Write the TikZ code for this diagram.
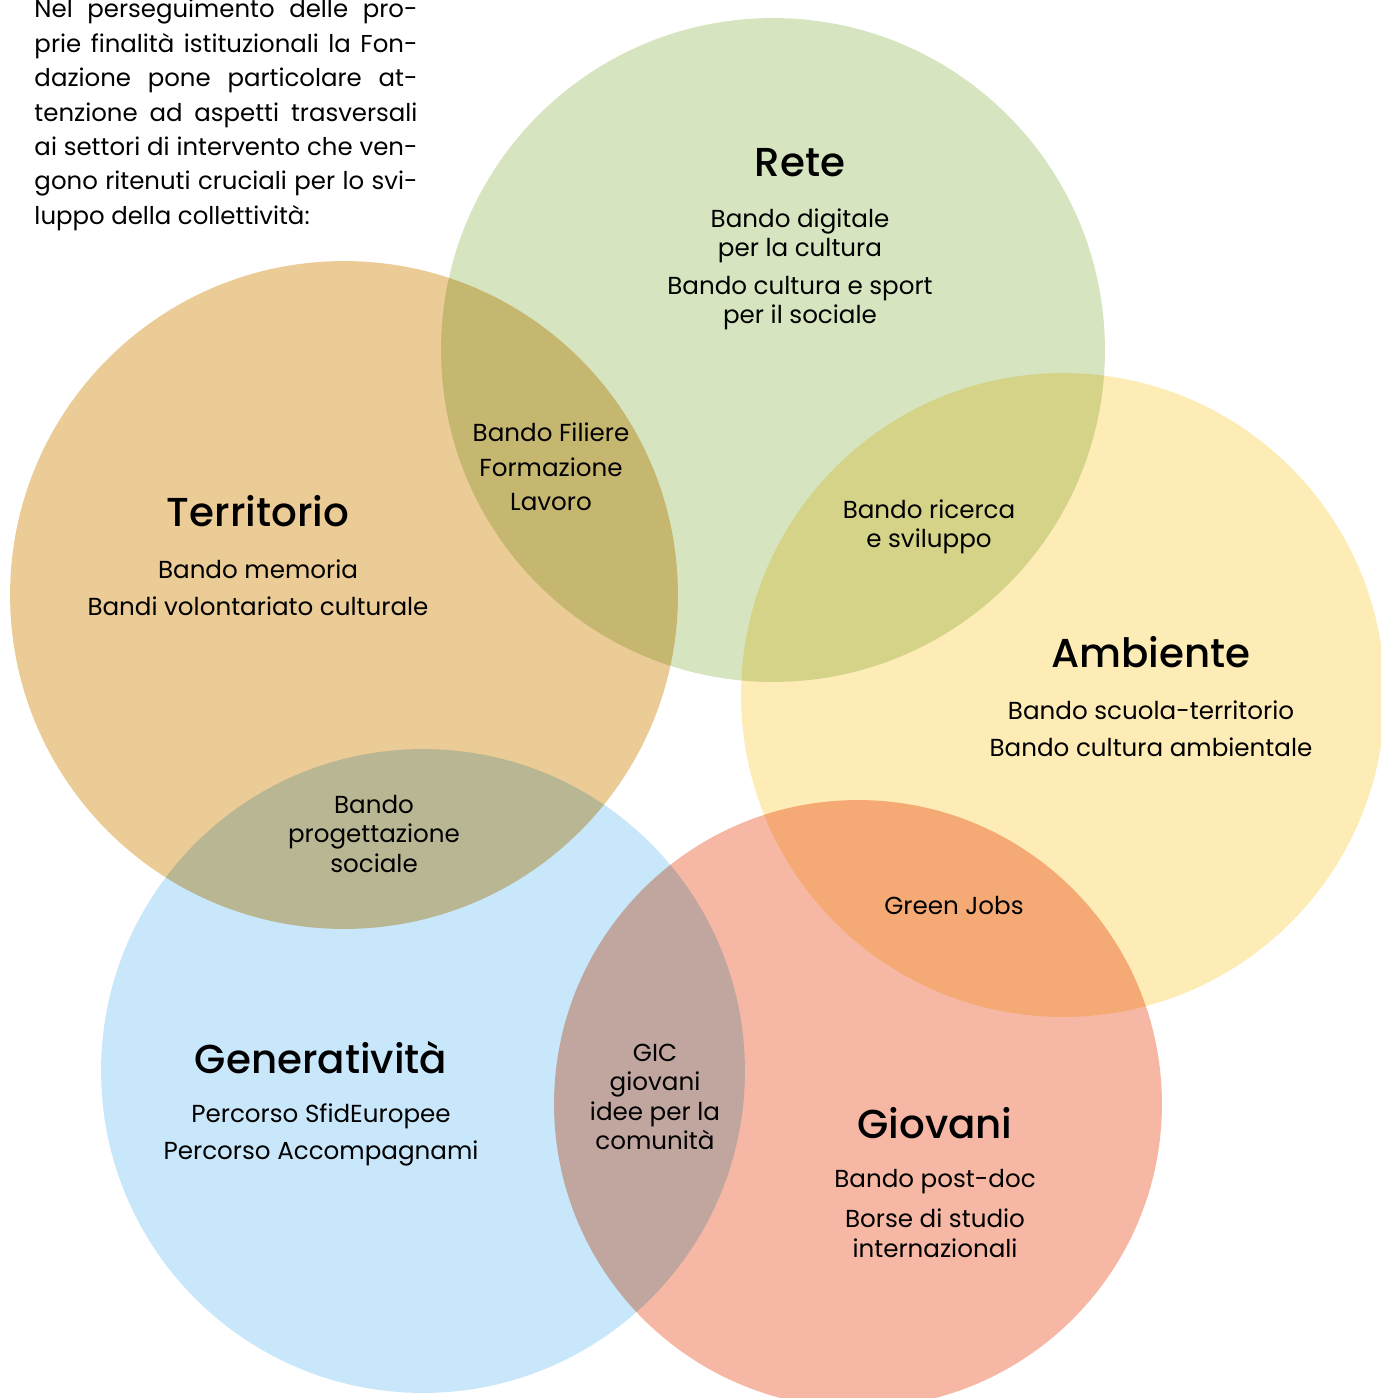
\documentclass[tikz,border=0pt]{standalone}
\usepackage{fontspec}
\setmainfont{Poppins}
\newfontfamily\titlefont{Poppins Medium}
\usetikzlibrary{positioning}
\definecolor{reteGreen}{RGB}{214,229,191}
\definecolor{terrOrange}{RGB}{235,203,150}
\definecolor{ambYellow}{RGB}{254,236,182}
\definecolor{genBlue}{RGB}{201,231,250}
\definecolor{giovSalmon}{RGB}{246,184,164}
\newcommand{\introline}[1]{\makebox[218pt][s]{#1}}

\begin{document}
\begin{tikzpicture}[x=0.02cm,y=-0.02cm,text centered]
\useasboundingbox (0,0) rectangle (1381,1398);
\clip (0,0) rectangle (1381,1398);

% the five circles, overlaps darken by multiply
\begin{scope}[blend mode=multiply]
\fill[reteGreen] (773,350) circle (6.64cm);
\fill[terrOrange] (344,595) circle (6.68cm);
\fill[ambYellow] (1063,695) circle (6.44cm);
\fill[genBlue] (423,1071) circle (6.44cm);
\fill[giovSalmon] (858,1104) circle (6.08cm);
\end{scope}

\tikzstyle{every node}=[align=center,inner sep=0pt,font=\fontsize{14}{16.8}\selectfont]
\tikzstyle{title}=[font=\titlefont\fontsize{23}{26}\selectfont]

\draw (226,115) node[align=left,font=\fontsize{13.9}{19.6}\selectfont] (intro)
 {\introline{Nel perseguimento delle pro-}\\
  \introline{prie finalità istituzionali la Fon-}\\
  \introline{dazione pone particolare at-}\\
  \introline{tenzione ad aspetti trasversali}\\
  \introline{ai settori di intervento che ven-}\\
  \introline{gono ritenuti cruciali per lo svi-}\\
  luppo della collettività:};

\draw (800,163) node[title] (rete) {Rete};
\draw (800,236) node (digitale) {Bando digitale\\per la cultura};
\draw (800,303) node (sport) {Bando cultura e sport\\per il sociale};

\draw (258,511) node[title] (terr) {Territorio};
\draw (258,569) node (memoria) {Bando memoria};
\draw (258,606) node (volont) {Bandi volontariato culturale};

\draw (551,467) node[font=\fontsize{14}{19.6}\selectfont] (filiere) {Bando Filiere\\Formazione\\Lavoro};
\draw (929,527) node (ricerca) {Bando ricerca\\e sviluppo};

\draw (1151,652) node[title] (amb) {Ambiente};
\draw (1151,710) node (scuola) {Bando scuola-territorio};
\draw (1151,747) node (ambcult) {Bando cultura ambientale};

\draw (374,834) node (progett) {Bando\\progettazione\\sociale};
\draw (954,906) node (green) {Green Jobs};

\draw (321,1058) node[title] (gen) {Generatività};
\draw (321,1116) node (sfide) {Percorso SfidEuropee};
\draw (321,1153) node (accomp) {Percorso Accompagnami};

\draw (655,1097) node (gic) {GIC\\giovani\\idee per la\\comunità};

\draw (935,1123) node[title] (giov) {Giovani};
\draw (935,1182) node (postdoc) {Bando post-doc};
\draw (935,1233) node (borse) {Borse di studio\\internazionali};

\end{tikzpicture}
\end{document}
